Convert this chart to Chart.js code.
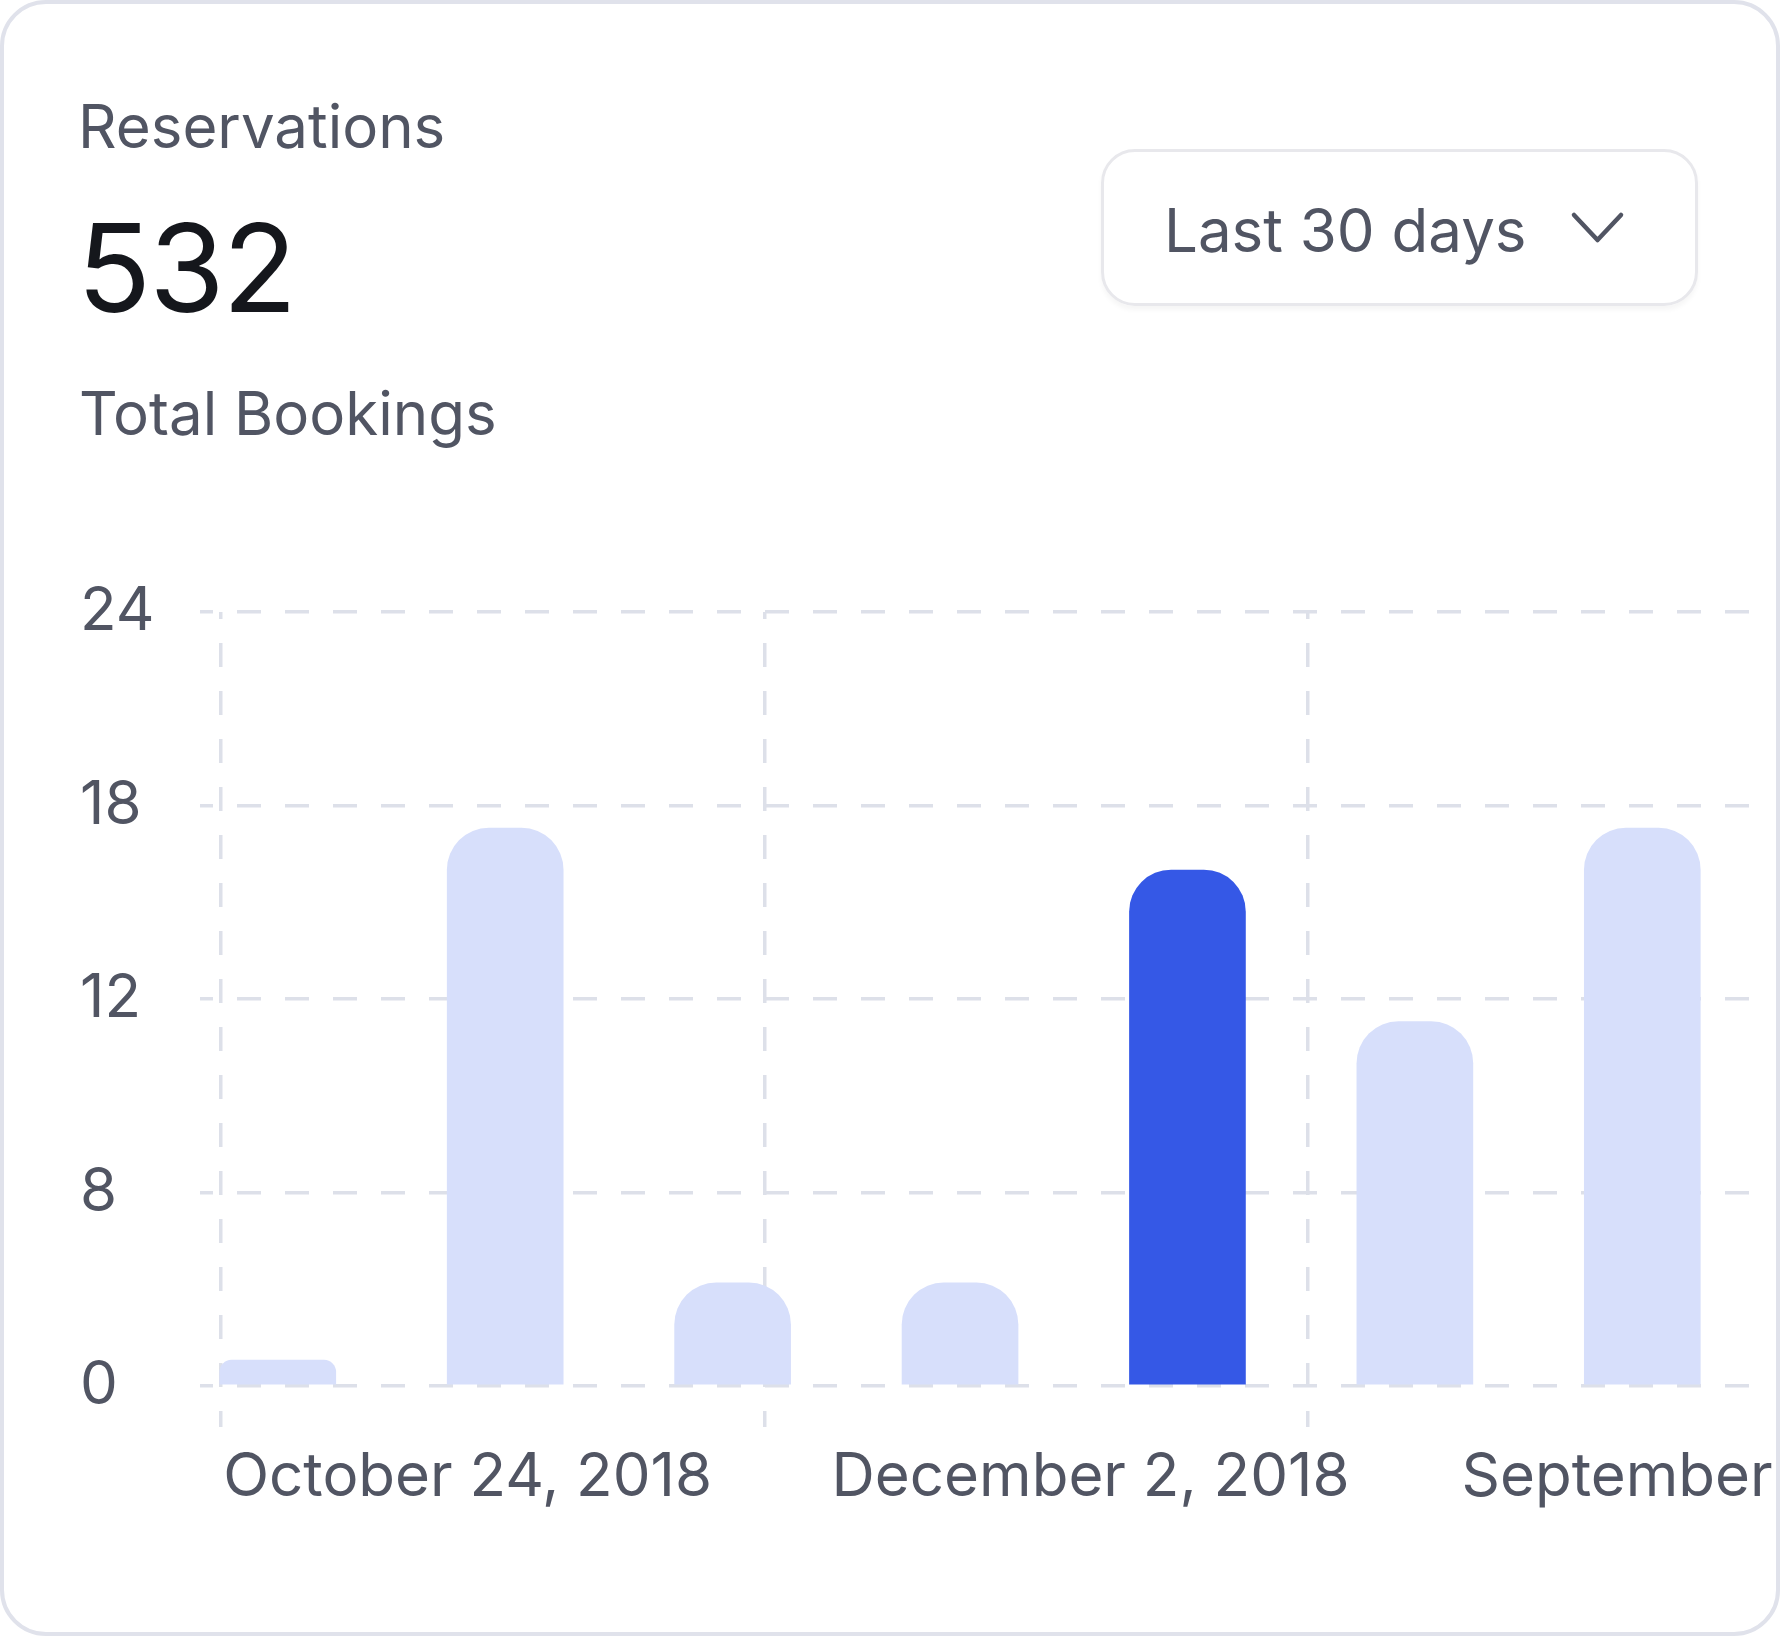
<!DOCTYPE html>
<html>
<head>
<meta charset="utf-8">
<script src="https://cdn.jsdelivr.net/npm/chart.js@4.4.1/dist/chart.umd.min.js"></script>
<style>
  html, body { margin: 0; padding: 0; background: #fff; }
  body { width: 1780px; height: 1636px; position: relative; font-family: Inter, "Noto Sans", sans-serif; }
  .card {
    position: absolute; left: 0; top: 0; width: 1780px; height: 1636px;
    box-sizing: border-box; border: 4px solid #e0e2eb; border-radius: 46px;
    background: #fff; overflow: hidden;
  }
  .txt { position: absolute; line-height: 1; white-space: nowrap; }
  .label { font-size: 60px; color: #515563; }
  .big { font-size: 122px; color: #15171c; letter-spacing: -2px; }
  .dropdown {
    position: absolute; left: 1097px; top: 145px; width: 597px; height: 157px;
    box-sizing: border-box; border: 3px solid #e8e8ec; border-radius: 34px;
    box-shadow: 0 4px 5px rgba(0,0,0,0.04);
  }
  .chart-box { position: absolute; left: 76px; top: 553px; width: 1696px; height: 992px; }
</style>
</head>
<body>
<div class="card">
  <div class="txt label" style="left:74px; top:92px;">Reservations</div>
  <div class="txt big" style="left:73px; top:203px;">532</div>
  <div class="txt label" style="left:75px; top:379px;">Total Bookings</div>
  <div class="dropdown"></div>
  <div class="txt label" style="left:1160px; top:196px;">Last 30 days</div>
  <svg style="position:absolute; left:1562px; top:200px;" width="60" height="40">
    <polyline points="8,11 31.5,36 55,11" fill="none" stroke="#515563" stroke-width="4.5" stroke-linecap="round" stroke-linejoin="round"/>
  </svg>
  <div class="chart-box"><canvas id="barChart"></canvas></div>
</div>
<script>
// bar values, one per day shown
const bookings = [0.8, 17.3, 3.2, 3.2, 16, 11.3, 17.3];
const highlightIndex = 4;

// y axis: evenly spaced grid lines, labels as printed on the card
const yTickValues = [0, 6, 12, 18, 24];
const yTickLabels = ['0', '8', '12', '18', '24'];

// x axis (bar index units)
const xMin = -0.342;
const xMax = 6.5;
const gridTicks = [-0.25, 2.14, 4.53];
const dateTicks = [-0.24, 2.435, 5.205];
const dateLabels = ['October 24, 2018', 'December 2, 2018', 'September 5, 2018'];

const gridColor = '#dde0e9';
const textColor = '#515563';
const lightBar = '#d7dffb';
const darkBar = '#3558e6';

Chart.defaults.font.family = 'Inter';

const ctx = document.getElementById('barChart');
new Chart(ctx, {
  type: 'bar',
  data: {
    datasets: [{
      label: 'Bookings',
      data: bookings.map((v, i) => ({ x: i, y: v })),
      backgroundColor: bookings.map((v, i) => i === highlightIndex ? darkBar : lightBar),
      barThickness: 116,
      borderRadius: { topLeft: 42, topRight: 42, bottomLeft: 0, bottomRight: 0 },
      borderSkipped: 'start',
      xAxisID: 'x',
      yAxisID: 'y'
    }]
  },
  options: {
    responsive: true,
    maintainAspectRatio: false,
    animation: false,
    layout: { padding: { top: 55, right: 20, bottom: 20, left: 0 } },
    plugins: {
      legend: { display: false },
      tooltip: { enabled: false }
    },
    scales: {
      x: {
        type: 'linear',
        min: xMin,
        max: xMax,
        offset: false,
        weight: 1,
        afterBuildTicks: axis => { axis.ticks = gridTicks.map(v => ({ value: v })); },
        ticks: { display: false },
        grid: {
          offset: false,
          color: gridColor, lineWidth: 3.5,
          drawTicks: true, tickLength: 41,
          tickColor: gridColor, tickWidth: 3.5,
          tickBorderDash: [24, 24], tickBorderDashOffset: 23
        },
        border: { display: false, dash: [24, 24], dashOffset: 17 }
      },
      xl: {
        type: 'linear',
        position: 'bottom',
        min: xMin,
        max: xMax,
        offset: false,
        weight: 2,
        afterBuildTicks: axis => { axis.ticks = dateTicks.map(v => ({ value: v })); },
        afterFit: axis => { axis.paddingLeft = 0; axis.paddingRight = 0; },
        ticks: {
          autoSkip: false, maxRotation: 0, minRotation: 0,
          align: 'start', padding: 15,
          color: textColor, font: { size: 60 },
          callback: (v, i) => dateLabels[i]
        },
        grid: { display: false, drawTicks: false, offset: false },
        border: { display: false }
      },
      y: {
        min: 0,
        max: 24,
        afterBuildTicks: axis => { axis.ticks = yTickValues.map(v => ({ value: v })); },
        afterFit: axis => { axis.width = 120; },
        ticks: {
          crossAlign: 'far',
          color: textColor, font: { size: 60 },
          callback: (v, i) => yTickLabels[i]
        },
        grid: { color: gridColor, lineWidth: 3.5, drawTicks: false },
        border: { display: false, dash: [24, 24], dashOffset: 11 }
      }
    }
  }
});
</script>
</body>
</html>
